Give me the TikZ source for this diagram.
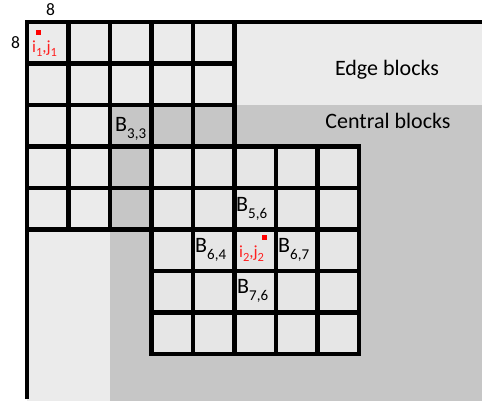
\documentclass[tikz,border=0pt]{standalone}
\usepackage{fontspec}
\setmainfont{Carlito}
\definecolor{edgegray}{HTML}{EBEBEB}
\definecolor{centgray}{HTML}{C6C6C6}
\definecolor{cellgray}{HTML}{E6E6E6}
\definecolor{redlab}{HTML}{FF2020}
\newcommand\bsub[1]{\raisebox{-6.5pt}{\fontsize{15}{15}\selectfont #1}}
\newcommand\rsub[1]{\raisebox{-3.5pt}{\fontsize{12.5}{12.5}\selectfont #1}}
\begin{document}
\begin{tikzpicture}[x=1pt,y=-1pt,
  gridline/.style={line width=4.6pt, line cap=rect},
  frameline/.style={line width=3.8pt},
  big/.style={font=\fontsize{22}{24}\selectfont, inner sep=0pt, anchor=base west},
  redlabel/.style={font=\fontsize{17}{18}\selectfont, text=redlab, inner sep=0pt, anchor=base west},
  num/.style={font=\fontsize{17.5}{18}\selectfont, inner sep=0pt},
  marker/.style={fill=red, minimum size=5pt, inner sep=0pt}]
\useasboundingbox (0,0) rectangle (482,403);
% background regions
\fill[edgegray] (27,22) rectangle (482,401);
\fill[centgray] (110,105) rectangle (482,401);
% grid 1 (rows 1-5, cols 1-5)
\foreach \k in {0,...,5} {
  \draw[gridline] ({27+\k*41.5},22) -- ({27+\k*41.5},229.5);
  \draw[gridline] (27,{22+\k*41.5}) -- (234.5,{22+\k*41.5});
}
% grid 2 (rows 4-8, cols 4-8)
\fill[cellgray] (151.5,146.5) rectangle (359,354);
\foreach \k in {0,...,5} {
  \draw[gridline] ({151.5+\k*41.5},146.5) -- ({151.5+\k*41.5},354);
  \draw[gridline] (151.5,{146.5+\k*41.5}) -- (359,{146.5+\k*41.5});
}
% frame
\draw[frameline] (27,399) -- (27,22) -- (482,22);
% labels
\node[num] (ntop) at (50.5,10) {8};
\node[num] (nleft) at (15.5,43) {8};
\node[font=\fontsize{22}{24}\selectfont, inner sep=0pt, anchor=base] (edge) at (387,76) {Edge blocks};
\node[font=\fontsize{22}{24}\selectfont, inner sep=0pt, anchor=base] (central) at (388,129) {Central blocks};
\node[big] (b33) at (115,132) {B\bsub{3,3}};
\node[big] (b56) at (236,212) {B\bsub{5,6}};
\node[big] (b64) at (195,253) {B\bsub{6,4}};
\node[big] (b67) at (278,253) {B\bsub{6,7}};
\node[big] (b76) at (237,294) {B\bsub{7,6}};
\node[redlabel] (ij1) at (32,53) {i\rsub{1},j\rsub{1}};
\node[redlabel] (ij2) at (239,258) {i\rsub{2},j\rsub{2}};
\node[marker] (m1) at (38.5,32.5) {};
\node[marker] (m2) at (264.5,237.5) {};
\end{tikzpicture}
\end{document}
